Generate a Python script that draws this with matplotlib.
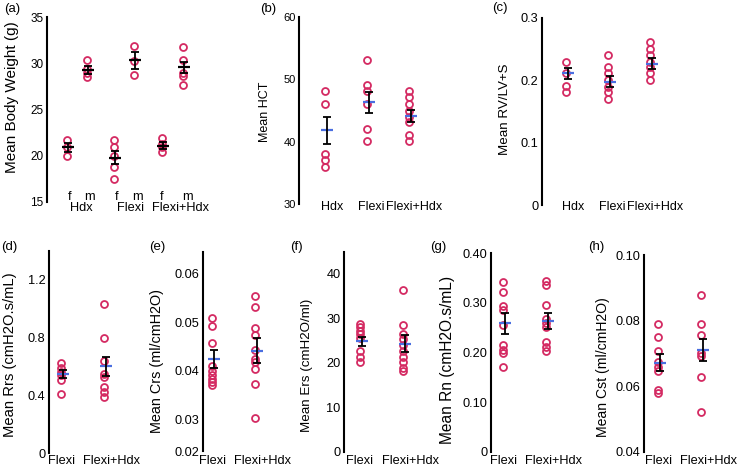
import numpy as np
import matplotlib
matplotlib.use('Agg')
import matplotlib.pyplot as plt

plt.rcParams['font.family'] = ['Liberation Sans', 'DejaVu Sans']

W, H = 741, 471
POINT_COLOR = '#d42a62'
MEAN_COLOR = '#4a6ee0'
ERR_DX = 0.04

# (a) body weight, f / m per group
bw_groups = ['Hdx', 'Flexi', 'Flexi+Hdx']
bw_sex = ['f', 'm', 'f', 'm', 'f', 'm']
bw_hdx_f = [21.7, 20.9, 20.0]
bw_hdx_m = [30.3, 29.4, 28.9, 28.5]
bw_flexi_f = [21.7, 21.0, 20.0, 18.8, 17.5]
bw_flexi_m = [31.9, 30.2, 28.7]
bw_fh_f = [21.9, 21.3, 21.0, 20.4]
bw_fh_m = [31.8, 30.3, 29.0, 28.6, 27.7]
bw_mean = [20.9, 29.3, 19.8, 30.3, 21.1, 29.55]
bw_sem = [0.45, 0.43, 0.7, 0.9, 0.36, 0.63]

# (b) HCT
groups3 = ['Hdx', 'Flexi', 'Flexi+Hdx']
hct_hdx = [48.2, 46.1, 38.0, 37.1, 36.0]
hct_flexi = [53.1, 49.1, 48.2, 46.1, 42.0, 40.1]
hct_fh = [48.2, 47.1, 46.1, 45.0, 44.0, 43.1, 41.1, 40.1]
hct_mean = [41.8, 46.3, 44.1]
hct_sem = [2.2, 1.7, 0.95]

# (c) RV/LV+S
rv_hdx = [0.230, 0.212, 0.191, 0.181]
rv_flexi = [0.241, 0.221, 0.212, 0.201, 0.190, 0.181, 0.170]
rv_fh = [0.261, 0.251, 0.241, 0.230, 0.221, 0.211, 0.201]
rv_mean = [0.211, 0.198, 0.227]
rv_sem = [0.009, 0.009, 0.009]

groups2 = ['Flexi', 'Flexi+Hdx']

# (d) Rrs
rrs_flexi = [0.625, 0.586, 0.563, 0.540, 0.505, 0.412]
rrs_fh = [1.03, 0.80, 0.64, 0.55, 0.53, 0.46, 0.42, 0.39]
rrs_mean = [0.547, 0.60]
rrs_sem = [0.025, 0.064]

# (e) Crs
crs_flexi = [0.0508, 0.0493, 0.0458, 0.0410, 0.0399, 0.0391, 0.0384, 0.0378, 0.0372]
crs_fh = [0.0554, 0.0532, 0.0489, 0.0475, 0.0444, 0.0425, 0.0418, 0.0403, 0.0374, 0.0302]
crs_mean = [0.0424, 0.0442]
crs_sem = [0.0019, 0.0026]

# (f) Ers
ers_flexi = [28.6, 27.9, 27.1, 26.4, 25.6, 22.6, 21.3, 20.2]
ers_fh = [36.3, 28.4, 26.4, 25.4, 23.9, 22.6, 21.3, 20.2, 18.9, 18.2]
ers_mean = [24.8, 24.3]
ers_sem = [1.0, 1.9]

# (g) Rn
rn_flexi = [0.342, 0.321, 0.294, 0.286, 0.255, 0.215, 0.206, 0.200, 0.171]
rn_fh = [0.344, 0.336, 0.296, 0.267, 0.259, 0.251, 0.222, 0.212, 0.204]
rn_mean = [0.259, 0.264]
rn_sem = [0.021, 0.016]

# (h) Cst
cst_flexi = [0.0790, 0.0750, 0.0708, 0.0673, 0.0658, 0.0648, 0.0590, 0.0580]
cst_fh = [0.0878, 0.0790, 0.0757, 0.0701, 0.0691, 0.0628, 0.0521]
cst_mean = [0.0672, 0.0710]
cst_sem = [0.0025, 0.0034]


def px_axes(fig, left, top, right, bottom):
    return fig.add_axes([left / W, 1 - bottom / H, (right - left) / W, (bottom - top) / H])


def style_axes(ax, xlim, ylim, yticks, yticklabels, tick_size):
    ax.set_xlim(xlim)
    ax.set_ylim(ylim)
    for s in ['top', 'right', 'bottom']:
        ax.spines[s].set_visible(False)
    ax.spines['left'].set_linewidth(1.5)
    ax.set_xticks([])
    ax.set_yticks(yticks)
    ax.set_yticklabels(yticklabels)
    ax.tick_params(axis='y', length=0, pad=2.5, labelsize=tick_size)
    ax.patch.set_visible(False)


def draw_groups(ax, xs, groups, means, sems, mean_color=MEAN_COLOR):
    for x, vals, m, e in zip(xs, groups, means, sems):
        ax.plot(np.full(len(vals), x), vals, 'o', mfc='none', mec=POINT_COLOR,
                ms=5, mew=1.3, zorder=2, clip_on=False)
        ax.plot(x + ERR_DX, m, marker='_', color=mean_color, ms=9, mew=1.6, zorder=3)
        ax.errorbar(x + ERR_DX, m, yerr=e, fmt='none', ecolor='black',
                    elinewidth=1.3, capsize=3, capthick=1.3, zorder=4)


def x_labels(ax, xs, labels, y_px, top, bottom, size):
    yf = -(y_px - bottom) / (bottom - top)
    for x, lab in zip(xs, labels):
        ax.text(x, yf, lab, transform=ax.get_xaxis_transform(), ha='center', va='center',
                fontsize=size, clip_on=False)


def fig_text(fig, x_px, y_px, s, size, rotation=0):
    fig.text(x_px / W, 1 - y_px / H, s, ha='center', va='center', fontsize=size, rotation=rotation)


fig = plt.figure(figsize=(W / 100, H / 100), dpi=100)

# (a)
ax = px_axes(fig, 47, 17, 207, 202)
style_axes(ax, (0, 8), (15, 35), [15, 20, 25, 30, 35], ['15', '20', '25', '30', '35'], 8.5)
draw_groups(ax, [1, 2, 3.35, 4.35, 5.75, 6.8],
            [bw_hdx_f, bw_hdx_m, bw_flexi_f, bw_flexi_m, bw_fh_f, bw_fh_m],
            bw_mean, bw_sem, mean_color='black')
x_labels(ax, [1.15, 2.1, 3.5, 4.5, 5.75, 7.0], bw_sex, 197, 17, 202, 9.2)
x_labels(ax, [1.73, 4.15, 6.65], bw_groups, 208, 17, 202, 9.2)
fig_text(fig, 12, 97, 'Mean Body Weight (g)', 11, 90)
fig_text(fig, 12, 9, '(a)', 9.5)

# (b)
ax = px_axes(fig, 299, 17, 434, 204)
style_axes(ax, (0.38, 3.6), (30, 60), [30, 40, 50, 60], ['30', '40', '50', '60'], 8)
draw_groups(ax, [1, 2, 3], [hct_hdx, hct_flexi, hct_fh], hct_mean, hct_sem)
x_labels(ax, [1.18, 2.1, 3.12], groups3, 207, 17, 204, 9)
fig_text(fig, 265, 112, 'Mean HCT', 9, 90)
fig_text(fig, 268, 9, '(b)', 9.5)

# (c)
ax = px_axes(fig, 542, 18, 675, 205)
style_axes(ax, (0.43, 3.6), (0, 0.3), [0, 0.1, 0.2, 0.3], ['0', '0.1', '0.2', '0.3'], 9.2)
draw_groups(ax, [1, 2, 3], [rv_hdx, rv_flexi, rv_fh], rv_mean, rv_sem)
x_labels(ax, [1.17, 2.1, 3.12], groups3, 207, 18, 205, 9)
fig_text(fig, 505, 109, 'Mean RV/LV+S', 9.6, 90)
fig_text(fig, 500, 8, '(c)', 9.5)

bottom_panels = [
    # left px, top, bottom, xlim left, ylim, ticks, tick labels, data, label x, label y, label size, letter x
    (49, 251, 453, 0.72, (0, 1.4), [0, 0.4, 0.8, 1.2], ['0', '0.4', '0.8', '1.2'],
     [rrs_flexi, rrs_fh], rrs_mean, rrs_sem, 'Mean Rrs (cmH2O.s/mL)', 10, 355, 10.6, '(d)', 9),
    (203, 252, 451, 0.79, (0.0235, 0.0645), [0.0235, 0.03, 0.04, 0.05, 0.06],
     ['0.02', '0.03', '0.04', '0.05', '0.06'],
     [crs_flexi, crs_fh], crs_mean, crs_sem, 'Mean Crs (ml/cmH2O)', 157.5, 361, 10.4, '(e)', 157),
    (344, 252, 452, 0.63, (0, 44.8), [0, 10, 20, 30, 40], ['0', '10', '20', '30', '40'],
     [ers_flexi, ers_fh], ers_mean, ers_sem, 'Mean Ers (cmH2O/ml)', 307, 365, 9.6, '(f)', 296),
    (491, 253, 452, 0.72, (0, 0.4), [0, 0.1, 0.2, 0.3, 0.4], ['0', '0.10', '0.20', '0.30', '0.40'],
     [rn_flexi, rn_fh], rn_mean, rn_sem, 'Mean Rn (cmH2O.s/mL)', 447.5, 360, 11.2, '(g)', 438),
    (644, 255, 452, 0.67, (0.04, 0.10), [0.04, 0.06, 0.08, 0.10], ['0.04', '0.06', '0.08', '0.10'],
     [cst_flexi, cst_fh], cst_mean, cst_sem, 'Mean Cst (ml/cmH2O)', 603, 367, 10.1, '(h)', 596),
]

for (left, top, bottom, xl, ylim, ticks, tlabels, data, means, sems,
     ylabel, lx, ly, lsize, letter, letter_x) in bottom_panels:
    right = left + (2.6 - xl) * 43
    ax = px_axes(fig, left, top, right, bottom)
    style_axes(ax, (xl, 2.6), ylim, ticks, tlabels, 9.2)
    draw_groups(ax, [1, 2], data, means, sems)
    x_labels(ax, [1.0, 2.18], groups2, 461, top, bottom, 9.2)
    fig_text(fig, lx, ly, ylabel, lsize, 90)
    fig_text(fig, letter_x, 247, letter, 9.5)

fig.savefig('out.png', dpi=100)
